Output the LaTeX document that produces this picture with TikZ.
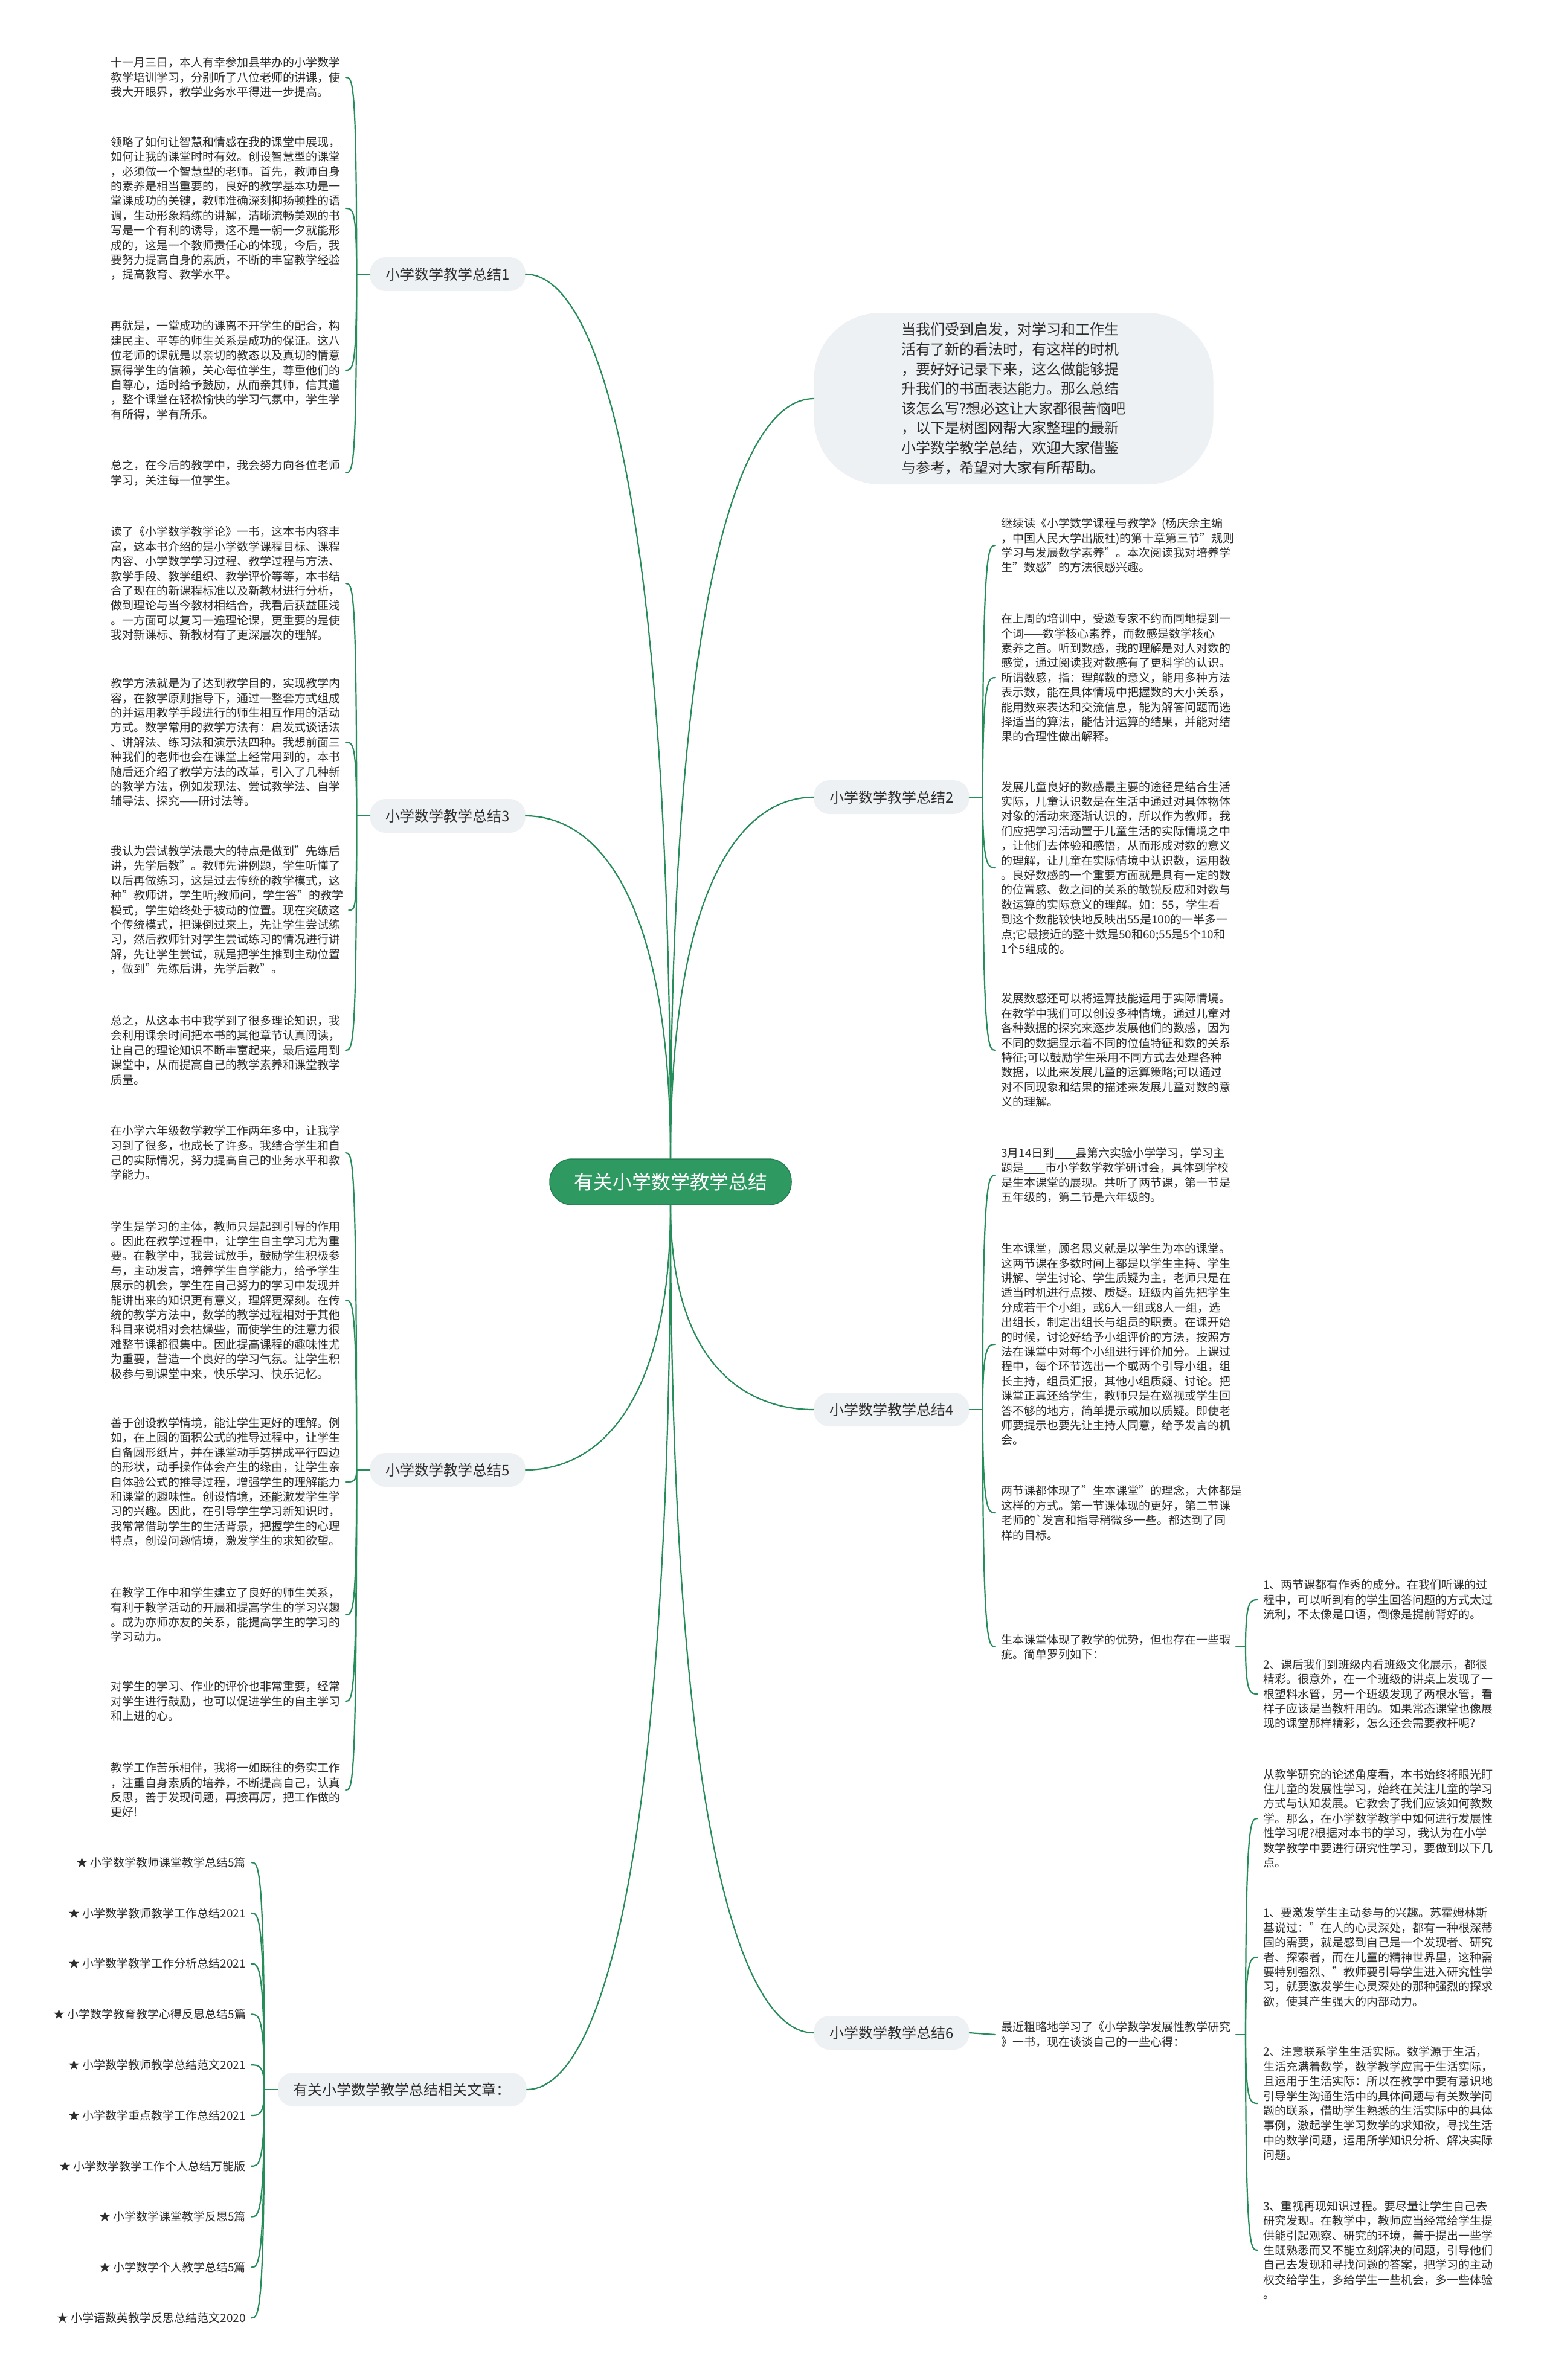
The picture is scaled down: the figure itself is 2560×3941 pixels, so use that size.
\documentclass[tikz,border=0pt]{standalone}
\usepackage{fontspec}
\setmainfont{Noto Sans CJK SC}
\definecolor{mmline}{RGB}{38,140,90}
\definecolor{mmroot}{RGB}{46,153,97}
\definecolor{mmedge}{RGB}{36,128,80}
\definecolor{mmgray}{RGB}{238,241,243}
\definecolor{mmink}{RGB}{45,45,45}
\begin{document}
\begin{tikzpicture}[x=1pt,y=1pt,
    wire/.style={draw=mmline,line width=2.2pt,line cap=round},
    hookl/.style={to path={.. controls (\tikztostart |- \tikztotarget) and ([xshift=12pt]\tikztotarget) .. (\tikztotarget)}},
    hookr/.style={to path={.. controls (\tikztostart |- \tikztotarget) and ([xshift=-12pt]\tikztotarget) .. (\tikztotarget)}},
    topic/.style={fill=mmgray,rounded corners=26pt,minimum height=56pt,inner xsep=26pt,
      font=\fontsize{24}{28}\selectfont,text=mmink},
    leaf/.style={align=left,inner sep=0pt,outer xsep=9pt,font=\fontsize{19}{24.4}\selectfont,text=mmink}]
  \path[use as bounding box,fill=white] (0,0) rectangle (2560,-3941);

  \node[fill=mmroot,draw=mmedge,line width=1.5pt,rounded corners=37pt,minimum width=400pt,
    minimum height=76pt,text=white,font=\fontsize{32}{36}\selectfont] (root) at (1110,-1957) {有关小学数学教学总结};

  \node[fill=mmgray,rounded corners=110pt,minimum width=661pt,minimum height=284pt,align=left,
    font=\fontsize{24}{32.6}\selectfont,text=mmink] (intro) at (1678,-660)
    {当我们受到启发，对学习和工作生\\活有了新的看法时，有这样的时机\\，要好好记录下来，这么做能够提\\升我们的书面表达能力。那么总结\\该怎么写?想必这让大家都很苦恼吧\\，以下是树图网帮大家整理的最新\\小学数学教学总结，欢迎大家借鉴\\与参考，希望对大家有所帮助。};

  \node[topic,anchor=east] (s1) at (870,-454) {小学数学教学总结1};
  \node[topic,anchor=east] (s3) at (870,-1351) {小学数学教学总结3};
  \node[topic,anchor=east] (s5) at (870,-2434) {小学数学教学总结5};
  \node[topic,anchor=east] (rel) at (872,-3460) {有关小学数学教学总结相关文章：};
  \node[topic,anchor=west] (s2) at (1347,-1320) {小学数学教学总结2};
  \node[topic,anchor=west] (s4) at (1347,-2334) {小学数学教学总结4};
  \node[topic,anchor=west] (s6) at (1347,-3366) {小学数学教学总结6};

  \node[leaf,anchor=west] (s1a) at (174,-128) {十一月三日，本人有幸参加县举办的小学数学\\教学培训学习，分别听了八位老师的讲课，使\\我大开眼界，教学业务水平得进一步提高。};
  \node[leaf,anchor=west] (s1b) at (174,-345) {领略了如何让智慧和情感在我的课堂中展现，\\如何让我的课堂时时有效。创设智慧型的课堂\\，必须做一个智慧型的老师。首先，教师自身\\的素养是相当重要的，良好的教学基本功是一\\堂课成功的关键，教师准确深刻抑扬顿挫的语\\调，生动形象精练的讲解，清晰流畅美观的书\\写是一个有利的诱导，这不是一朝一夕就能形\\成的，这是一个教师责任心的体现，今后，我\\要努力提高自身的素质，不断的丰富教学经验\\，提高教育、教学水平。};
  \node[leaf,anchor=west] (s1c) at (174,-613) {再就是，一堂成功的课离不开学生的配合，构\\建民主、平等的师生关系是成功的保证。这八\\位老师的课就是以亲切的教态以及真切的情意\\赢得学生的信赖，关心每位学生，尊重他们的\\自尊心，适时给予鼓励，从而亲其师，信其道\\，整个课堂在轻松愉快的学习气氛中，学生学\\有所得，学有所乐。};
  \node[leaf,anchor=west] (s1d) at (174,-783) {总之，在今后的教学中，我会努力向各位老师\\学习，关注每一位学生。};

  \node[leaf,anchor=west] (s3a) at (174,-966) {读了《小学数学教学论》一书，这本书内容丰\\富，这本书介绍的是小学数学课程目标、课程\\内容、小学数学学习过程、教学过程与方法、\\教学手段、教学组织、教学评价等等，本书结\\合了现在的新课程标准以及新教材进行分析，\\做到理论与当今教材相结合，我看后获益匪浅\\。一方面可以复习一遍理论课，更重要的是使\\我对新课标、新教材有了更深层次的理解。};
  \node[leaf,anchor=west] (s3b) at (174,-1229) {教学方法就是为了达到教学目的，实现教学内\\容，在教学原则指导下，通过一整套方式组成\\的并运用教学手段进行的师生相互作用的活动\\方式。数学常用的教学方法有：启发式谈话法\\、讲解法、练习法和演示法四种。我想前面三\\种我们的老师也会在课堂上经常用到的，本书\\随后还介绍了教学方法的改革，引入了几种新\\的教学方法，例如发现法、尝试教学法、自学\\辅导法、探究——研讨法等。};
  \node[leaf,anchor=west] (s3c) at (174,-1507) {我认为尝试教学法最大的特点是做到"先练后\\讲，先学后教"。教师先讲例题，学生听懂了\\以后再做练习，这是过去传统的教学模式，这\\种"教师讲，学生听;教师问，学生答"的教学\\模式，学生始终处于被动的位置。现在突破这\\个传统模式，把课倒过来上，先让学生尝试练\\习，然后教师针对学生尝试练习的情况进行讲\\解，先让学生尝试，就是把学生推到主动位置\\，做到"先练后讲，先学后教"。};
  \node[leaf,anchor=west] (s3d) at (174,-1739) {总之，从这本书中我学到了很多理论知识，我\\会利用课余时间把本书的其他章节认真阅读，\\让自己的理论知识不断丰富起来，最后运用到\\课堂中，从而提高自己的教学素养和课堂教学\\质量。};

  \node[leaf,anchor=west] (s5a) at (174,-1909) {在小学六年级数学教学工作两年多中，让我学\\习到了很多，也成长了许多。我结合学生和自\\己的实际情况，努力提高自己的业务水平和教\\学能力。};
  \node[leaf,anchor=west] (s5b) at (174,-2153) {学生是学习的主体，教师只是起到引导的作用\\。因此在教学过程中，让学生自主学习尤为重\\要。在教学中，我尝试放手，鼓励学生积极参\\与，主动发言，培养学生自学能力，给予学生\\展示的机会，学生在自己努力的学习中发现并\\能讲出来的知识更有意义，理解更深刻。在传\\统的教学方法中，数学的教学过程相对于其他\\科目来说相对会枯燥些，而使学生的注意力很\\难整节课都很集中。因此提高课程的趣味性尤\\为重要，营造一个良好的学习气氛。让学生积\\极参与到课堂中来，快乐学习、快乐记忆。};
  \node[leaf,anchor=west] (s5c) at (174,-2454) {善于创设教学情境，能让学生更好的理解。例\\如，在上圆的面积公式的推导过程中，让学生\\自备圆形纸片，并在课堂动手剪拼成平行四边\\的形状，动手操作体会产生的缘由，让学生亲\\自体验公式的推导过程，增强学生的理解能力\\和课堂的趣味性。创设情境，还能激发学生学\\习的兴趣。因此，在引导学生学习新知识时，\\我常常借助学生的生活背景，把握学生的心理\\特点，创设问题情境，激发学生的求知欲望。};
  \node[leaf,anchor=west] (s5d) at (174,-2674) {在教学工作中和学生建立了良好的师生关系，\\有利于教学活动的开展和提高学生的学习兴趣\\。成为亦师亦友的关系，能提高学生的学习的\\学习动力。};
  \node[leaf,anchor=west] (s5e) at (174,-2817) {对学生的学习、作业的评价也非常重要，经常\\对学生进行鼓励，也可以促进学生的自主学习\\和上进的心。};
  \node[leaf,anchor=west] (s5f) at (174,-2964) {教学工作苦乐相伴，我将一如既往的务实工作\\，注重自身素质的培养，不断提高自己，认真\\反思，善于发现问题，再接再厉，把工作做的\\更好!};

  \foreach \txt [count=\i] in {小学数学教师课堂教学总结5篇,小学数学教师教学工作总结2021,
      小学数学教学工作分析总结2021,小学数学教育教学心得反思总结5篇,小学数学教师教学总结范文2021,
      小学数学重点教学工作总结2021,小学数学教学工作个人总结万能版,小学数学课堂教学反思5篇,
      小学数学个人教学总结5篇,小学语数英教学反思总结范文2020}
    \node[leaf,anchor=east] (r\i) at (416,{-3084-83.8*(\i-1)}) {★ \txt};

  \node[leaf,anchor=west] (s2a) at (1648,-903) {继续读《小学数学课程与教学》(杨庆余主编\\，中国人民大学出版社)的第十章第三节"规则\\学习与发展数学素养"。本次阅读我对培养学\\生"数感"的方法很感兴趣。};
  \node[leaf,anchor=west] (s2b) at (1648,-1122) {在上周的培训中，受邀专家不约而同地提到一\\个词——数学核心素养，而数感是数学核心\\素养之首。听到数感，我的理解是对人对数的\\感觉，通过阅读我对数感有了更科学的认识。\\所谓数感，指：理解数的意义，能用多种方法\\表示数，能在具体情境中把握数的大小关系，\\能用数来表达和交流信息，能为解答问题而选\\择适当的算法，能估计运算的结果，并能对结\\果的合理性做出解释。};
  \node[leaf,anchor=west] (s2c) at (1648,-1437) {发展儿童良好的数感最主要的途径是结合生活\\实际，儿童认识数是在生活中通过对具体物体\\对象的活动来逐渐认识的，所以作为教师，我\\们应把学习活动置于儿童生活的实际情境之中\\，让他们去体验和感悟，从而形成对数的意义\\的理解，让儿童在实际情境中认识数，运用数\\。良好数感的一个重要方面就是具有一定的数\\的位置感、数之间的关系的敏锐反应和对数与\\数运算的实际意义的理解。如：55，学生看\\到这个数能较快地反映出55是100的一半多一\\点;它最接近的整十数是50和60;55是5个10和\\1个5组成的。};
  \node[leaf,anchor=west] (s2d) at (1648,-1739) {发展数感还可以将运算技能运用于实际情境。\\在教学中我们可以创设多种情境，通过儿童对\\各种数据的探究来逐步发展他们的数感，因为\\不同的数据显示着不同的位值特征和数的关系\\特征;可以鼓励学生采用不同方式去处理各种\\数据，以此来发展儿童的运算策略;可以通过\\对不同现象和结果的描述来发展儿童对数的意\\义的理解。};

  \node[leaf,anchor=west] (s4a) at (1648,-1946) {3月14日到\rule[-3pt]{35pt}{1pt}县第六实验小学学习，学习主\\题是\rule[-3pt]{35pt}{1pt}市小学数学教学研讨会，具体到学校\\是生本课堂的展现。共听了两节课，第一节是\\五年级的，第二节是六年级的。};
  \node[leaf,anchor=west] (s4b) at (1648,-2226) {生本课堂，顾名思义就是以学生为本的课堂。\\这两节课在多数时间上都是以学生主持、学生\\讲解、学生讨论、学生质疑为主，老师只是在\\适当时机进行点拨、质疑。班级内首先把学生\\分成若干个小组，或6人一组或8人一组，选\\出组长，制定出组长与组员的职责。在课开始\\的时候，讨论好给予小组评价的方法，按照方\\法在课堂中对每个小组进行评价加分。上课过\\程中，每个环节选出一个或两个引导小组，组\\长主持，组员汇报，其他小组质疑、讨论。把\\课堂正真还给学生，教师只是在巡视或学生回\\答不够的地方，简单提示或加以质疑。即使老\\师要提示也要先让主持人同意，给予发言的机\\会。};
  \node[leaf,anchor=west] (s4c) at (1648,-2505) {两节课都体现了"生本课堂"的理念，大体都是\\这样的方式。第一节课体现的更好，第二节课\\老师的\textasciigrave 发言和指导稍微多一些。都达到了同\\样的目标。};
  \node[leaf,anchor=west] (s4d) at (1648,-2727) {生本课堂体现了教学的优势，但也存在一些瑕\\疵。简单罗列如下：};
  \node[leaf,anchor=west] (s4e) at (2082,-2649) {1、两节课都有作秀的成分。在我们听课的过\\程中，可以听到有的学生回答问题的方式太过\\流利，不太像是口语，倒像是提前背好的。};
  \node[leaf,anchor=west] (s4f) at (2082,-2805) {2、课后我们到班级内看班级文化展示，都很\\精彩。很意外，在一个班级的讲桌上发现了一\\根塑料水管，另一个班级发现了两根水管，看\\样子应该是当教杆用的。如果常态课堂也像展\\现的课堂那样精彩，怎么还会需要教杆呢?};

  \node[leaf,anchor=west] (s6r) at (1648,-3369) {最近粗略地学习了《小学数学发展性教学研究\\》一书，现在谈谈自己的一些心得：};
  \node[leaf,anchor=west] (s6a) at (2082,-3011) {从教学研究的论述角度看，本书始终将眼光盯\\住儿童的发展性学习，始终在关注儿童的学习\\方式与认知发展。它教会了我们应该如何教数\\学。那么，在小学数学教学中如何进行发展性\\性学习呢?根据对本书的学习，我认为在小学\\数学教学中要进行研究性学习，要做到以下几\\点。};
  \node[leaf,anchor=west] (s6b) at (2082,-3241) {1、要激发学生主动参与的兴趣。苏霍姆林斯\\基说过："在人的心灵深处，都有一种根深蒂\\固的需要，就是感到自己是一个发现者、研究\\者、探索者，而在儿童的精神世界里，这种需\\要特别强烈、"教师要引导学生进入研究性学\\习，就要激发学生心灵深处的那种强烈的探求\\欲，使其产生强大的内部动力。};
  \node[leaf,anchor=west] (s6c) at (2082,-3483) {2、注意联系学生生活实际。数学源于生活，\\生活充满着数学，数学教学应寓于生活实际，\\且运用于生活实际：所以在教学中要有意识地\\引导学生沟通生活中的具体问题与有关数学问\\题的联系，借助学生熟悉的生活实际中的具体\\事例，激起学生学习数学的求知欲，寻找生活\\中的数学问题，运用所学知识分析、解决实际\\问题。};
  \node[leaf,anchor=west] (s6d) at (2082,-3726) {3、重视再现知识过程。要尽量让学生自己去\\研究发现。在教学中，教师应当经常给学生提\\供能引起观察、研究的环境，善于提出一些学\\生既熟悉而又不能立刻解决的问题，引导他们\\自己去发现和寻找问题的答案，把学习的主动\\权交给学生，多给学生一些机会，多一些体验\\。};

  \draw[wire] (root.north) .. controls +(0,1100) and +(120,0) .. (s1.east);
  \draw[wire] (root.north) .. controls +(0,430) and +(120,0) .. (s3.east);
  \draw[wire] (root.north) .. controls +(0,945) and +(-120,0) .. (intro.west);
  \draw[wire] (root.north) .. controls +(0,450) and +(-120,0) .. (s2.west);
  \draw[wire] (root.south) .. controls +(0,-330) and +(120,0) .. (s5.east);
  \draw[wire] (root.south) .. controls +(0,-255) and +(-120,0) .. (s4.west);
  \draw[wire] (root.south) .. controls +(0,-1030) and +(-120,0) .. (s6.west);
  \draw[wire] (root.south) .. controls +(0,-1100) and +(120,0) .. (rel.east);

  \coordinate (j1) at ([xshift=-22pt]s1.west);
  \coordinate (j3) at ([xshift=-22pt]s3.west);
  \coordinate (j5) at ([xshift=-22pt]s5.west);
  \coordinate (j7) at ([xshift=-22pt]rel.west);
  \coordinate (j2) at ([xshift=22pt]s2.east);
  \coordinate (j4) at ([xshift=22pt]s4.east);
  \coordinate (j4d) at ([xshift=16pt]s4d.east);
  \coordinate (j6) at ([xshift=16pt]s6r.east);

  \draw[wire] (s1.west) -- (j1) (s3.west) -- (j3) (s5.west) -- (j5) (rel.west) -- (j7);
  \draw[wire] (s2.east) -- (j2) (s4.east) -- (j4) (s4d.east) -- (j4d) (s6r.east) -- (j6);
  \draw[wire] (s6.east) -- (s6r.west);
  \foreach \n in {s1a,s1b,s1c,s1d} \draw[wire] (j1) to[hookl] (\n.east);
  \foreach \n in {s3a,s3b,s3c,s3d} \draw[wire] (j3) to[hookl] (\n.east);
  \foreach \n in {s5a,s5b,s5c,s5d,s5e,s5f} \draw[wire] (j5) to[hookl] (\n.east);
  \foreach \i in {1,...,10} \draw[wire] (j7) to[hookl] (r\i.east);
  \foreach \n in {s2a,s2b,s2c,s2d} \draw[wire] (j2) to[hookr] (\n.west);
  \foreach \n in {s4a,s4b,s4c,s4d} \draw[wire] (j4) to[hookr] (\n.west);
  \foreach \n in {s4e,s4f} \draw[wire] (j4d) to[hookr] (\n.west);
  \foreach \n in {s6a,s6b,s6c,s6d} \draw[wire] (j6) to[hookr] (\n.west);
\end{tikzpicture}
\end{document}
